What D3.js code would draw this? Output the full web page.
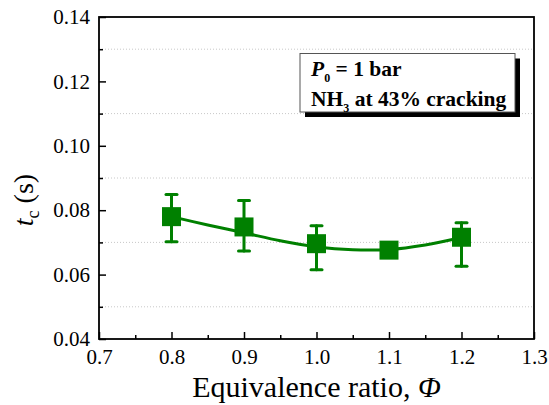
<!DOCTYPE html>
<html>
<head>
<meta charset="utf-8">
<script src="https://cdn.jsdelivr.net/npm/d3@7"></script>
<style>
  html, body { margin: 0; padding: 0; background: #fff; }
  svg text { font-family: 'Liberation Serif', 'Times New Roman', Tinos, 'DejaVu Serif', serif; }
</style>
</head>
<body>
<svg id="chart" width="549" height="405"></svg>
<script>
// Ignition delay time versus equivalence ratio
const phi = [0.8, 0.9, 1.0, 1.1, 1.2];
const tc = [0.0780, 0.0748, 0.0696, 0.0676, 0.0716];
const tcUpper = [0.0849, 0.0830, 0.0752, 0.0676, 0.0761];
const tcLower = [0.0702, 0.0673, 0.0615, 0.0676, 0.0626];

// Smoothed trend line through the measurements
const fitPhi = [0.80, 0.85, 0.90, 0.95, 1.00, 1.05, 1.10, 1.15, 1.20];
const fitTc = [0.0780, 0.0754, 0.0730, 0.0705, 0.0686, 0.0677, 0.0678, 0.0692, 0.0715];

const xTicks = [0.7, 0.8, 0.9, 1.0, 1.1, 1.2, 1.3];
const xMinorTicks = [0.75, 0.85, 0.95, 1.05, 1.15, 1.25];
const yTicks = [0.04, 0.06, 0.08, 0.10, 0.12, 0.14];
const yMinorTicks = [0.05, 0.07, 0.09, 0.11, 0.13];

const SERIF = "'Liberation Serif', 'Times New Roman', Tinos, 'DejaVu Serif', serif";
const green = "#008000";
const svg = d3.select("#chart");
const m = { left: 99, right: 534, top: 17, bottom: 339 };

const x = d3.scaleLinear().domain([0.7, 1.3]).range([m.left, m.right]);
const y = d3.scaleLinear().domain([0.04, 0.14]).range([m.bottom, m.top]);

// dotted grid lines at the minor y ticks
svg.append("g").selectAll("line").data(yMinorTicks).join("line")
  .attr("x1", m.left).attr("x2", m.right)
  .attr("y1", d => y(d)).attr("y2", d => y(d))
  .attr("stroke", "#c8c8c8").attr("stroke-width", 1)
  .attr("stroke-dasharray", "1,2");

// axes with inward ticks
const xAxis = d3.axisBottom(x).tickValues(xTicks).tickSize(-7).tickPadding(10)
  .tickFormat(d3.format(".1f"));
const xAxisMinor = d3.axisBottom(x).tickValues(xMinorTicks).tickSize(-4).tickFormat("");
const yAxis = d3.axisLeft(y).tickValues(yTicks).tickSize(-7).tickPadding(9)
  .tickFormat(d3.format(".2f"));
const yAxisMinor = d3.axisLeft(y).tickValues(yMinorTicks).tickSize(-4).tickFormat("");

function styleAxis(g) {
  g.attr("font-family", SERIF).attr("font-size", 21);
  g.select(".domain").remove();
  g.selectAll(".tick line").attr("stroke", "#000").attr("stroke-width", 1.5);
  g.selectAll(".tick text").attr("fill", "#000")
    .attr("font-family", SERIF).attr("font-size", 21);
}

svg.append("g").attr("transform", `translate(0,${m.bottom})`).call(xAxis).call(styleAxis);
svg.append("g").attr("transform", `translate(0,${m.bottom})`).call(xAxisMinor).call(styleAxis);
svg.append("g").attr("transform", `translate(${m.left},0)`).call(yAxis).call(styleAxis);
svg.append("g").attr("transform", `translate(${m.left},0)`).call(yAxisMinor).call(styleAxis);

// frame
svg.append("rect")
  .attr("x", m.left).attr("y", m.top)
  .attr("width", m.right - m.left).attr("height", m.bottom - m.top)
  .attr("fill", "none").attr("stroke", "#000").attr("stroke-width", 1.8);

// trend line
const line = d3.line().x(d => x(d[0])).y(d => y(d[1])).curve(d3.curveCatmullRom);
svg.append("path")
  .datum(fitPhi.map((p, i) => [p, fitTc[i]]))
  .attr("d", line)
  .attr("fill", "none").attr("stroke", green).attr("stroke-width", 3);

// error bars
const pts = phi.map((p, i) => ({ p, v: tc[i], hi: tcUpper[i], lo: tcLower[i] }));
const eb = svg.append("g").attr("stroke", green).attr("stroke-width", 3).attr("stroke-linecap", "round");
const withErr = pts.filter(d => d.hi > d.v || d.lo < d.v);
eb.selectAll(".stem").data(withErr).join("line")
  .attr("x1", d => x(d.p)).attr("x2", d => x(d.p))
  .attr("y1", d => y(d.hi)).attr("y2", d => y(d.lo));
eb.selectAll(".capTop").data(withErr).join("line")
  .attr("x1", d => x(d.p) - 5.5).attr("x2", d => x(d.p) + 5.5)
  .attr("y1", d => y(d.hi)).attr("y2", d => y(d.hi));
eb.selectAll(".capBot").data(withErr).join("line")
  .attr("x1", d => x(d.p) - 5.5).attr("x2", d => x(d.p) + 5.5)
  .attr("y1", d => y(d.lo)).attr("y2", d => y(d.lo));

// square markers
const sq = 19;
svg.append("g").selectAll("rect").data(pts).join("rect")
  .attr("x", d => x(d.p) - sq / 2).attr("y", d => y(d.v) - sq / 2)
  .attr("width", sq).attr("height", sq)
  .attr("fill", green);

// x axis title
const xt = svg.append("text")
  .attr("x", (m.left + m.right) / 2).attr("y", 397)
  .attr("text-anchor", "middle").attr("font-family", SERIF)
  .attr("font-size", 30).attr("fill", "#000");
xt.append("tspan").text("Equivalence ratio, ");
xt.append("tspan").attr("font-style", "italic").text("\u03A6");

// y axis title
const yt = svg.append("text")
  .attr("transform", "translate(33,200) rotate(-90)")
  .attr("text-anchor", "middle").attr("font-family", SERIF)
  .attr("font-size", 28).attr("fill", "#000");
yt.append("tspan").attr("font-style", "italic").text("t");
yt.append("tspan").attr("dy", 6).attr("font-size", 18).text("c");
yt.append("tspan").attr("dy", -6).text(" (s)");

// annotation box with drop shadow
const bx = 300, by = 53.5, bw = 215, bh = 58.5;
svg.append("rect").attr("x", bx + 5).attr("y", by + 5).attr("width", bw).attr("height", bh).attr("fill", "#000");
svg.append("rect").attr("x", bx).attr("y", by).attr("width", bw).attr("height", bh)
  .attr("fill", "#fff").attr("stroke", "#555").attr("stroke-width", 1);

const t1 = svg.append("text").attr("x", 311).attr("y", 76)
  .attr("font-family", SERIF).attr("font-size", 21.5).attr("font-weight", "bold").attr("fill", "#000");
t1.append("tspan").attr("font-style", "italic").text("P");
t1.append("tspan").attr("dy", 6).attr("font-size", 12).text("0");
t1.append("tspan").attr("dy", -6).text(" = 1 bar");

const t2 = svg.append("text").attr("x", 311).attr("y", 106)
  .attr("font-family", SERIF).attr("font-size", 21.5).attr("font-weight", "bold").attr("fill", "#000");
t2.append("tspan").text("NH");
t2.append("tspan").attr("dy", 6).attr("font-size", 12).text("3");
t2.append("tspan").attr("dy", -6).text(" at 43% cracking");
</script>
</body>
</html>
